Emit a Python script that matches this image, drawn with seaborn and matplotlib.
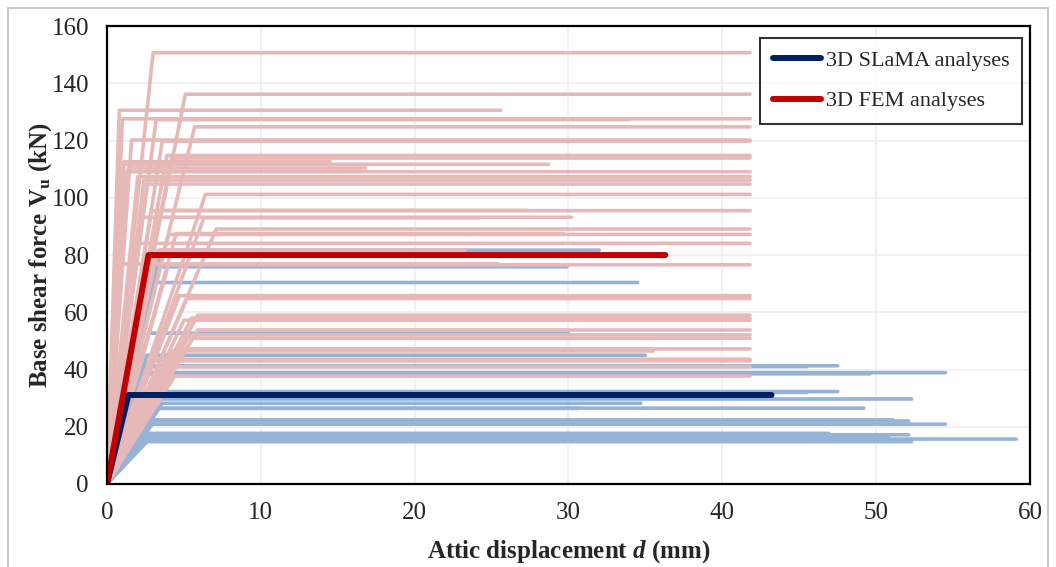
import matplotlib
matplotlib.use("Agg")
import matplotlib.pyplot as plt
import matplotlib.patches as mpatches
from matplotlib.lines import Line2D
import seaborn as sns
import pandas as pd

# bilinear curves: yield displacement, yield force, ultimate displacement
fem_dy = [3.0, 5.1, 0.8, 1.0, 3.2, 5.7, 1.6, 3.6, 3.9, 4.2, 1.1, 1.1, 1.4, 1.3, 2.0, 2.4, 2.6,
          6.4, 2.9, 3.4, 2.2, 6.3, 7.1, 4.0, 4.5, 1.8, 3.3, 4.0, 0.9, 4.7, 5.2, 5.9, 5.5, 5.0,
          5.9, 5.4, 5.0, 4.6, 4.3, 2.8, 3.0, 3.5, 4.4]
fem_vy = [150.7, 136.2, 130.6, 127.6, 127.3, 124.8, 120.2, 119.8, 114.8, 113.9, 112.6, 111.7,
          110.4, 109.1, 107.4, 106.2, 104.8, 101.2, 95.5, 95.6, 93.2, 93.0, 89.1, 87.2, 87.5,
          84.1, 81.7, 76.6, 76.9, 65.8, 64.8, 59.0, 58.0, 57.2, 53.8, 52.1, 50.9, 47.2, 46.5,
          43.6, 43.0, 41.0, 37.7]
fem_du = [41.8, 41.8, 25.6, 41.8, 34.0, 41.8, 41.8, 41.8, 41.8, 41.8, 14.5, 28.7, 16.8, 41.8,
          41.8, 41.8, 41.8, 41.8, 41.8, 27.3, 30.2, 24.2, 41.8, 41.8, 29.7, 41.8, 23.3, 41.8,
          25.4, 41.8, 41.8, 41.8, 41.8, 41.8, 41.8, 41.8, 41.8, 41.8, 35.5, 41.8, 41.8, 41.8,
          41.8]

slama_dy = [3.5, 3.1, 2.8, 2.7, 2.6, 2.1, 2.3, 2.0, 2.2, 2.5, 2.6, 3.5, 3.6, 3.4, 3.3, 3.0,
            3.1, 2.9, 2.6, 2.7, 2.5, 2.6, 2.4]
slama_vy = [81.7, 75.9, 70.4, 52.7, 45.0, 41.3, 41.0, 38.9, 38.5, 32.3, 32.0, 29.7, 28.2, 26.5,
            26.4, 22.4, 22.0, 20.9, 17.7, 17.2, 15.7, 14.8, 16.3]
slama_du = [32.0, 29.9, 34.5, 30.0, 35.0, 47.5, 45.5, 54.5, 49.6, 47.5, 45.5, 52.3, 34.7, 49.2,
            30.6, 51.1, 52.1, 54.5, 46.9, 52.1, 59.1, 52.3, 50.8]

# mean curves
slama_mean = [1.4, 31.1, 43.2]
fem_mean = [2.7, 80.0, 36.3]


def to_long(dy, vy, du):
    rows = []
    for i, (a, b, c) in enumerate(zip(dy, vy, du)):
        for x, y in [(0, 0), (a, b), (c, b)]:
            rows.append({"curve": i, "d": x, "V": y})
    return pd.DataFrame(rows)


df_fem = to_long(fem_dy, fem_vy, fem_du)
df_slama = to_long(slama_dy, slama_vy, slama_du)
df_sm = to_long([slama_mean[0]], [slama_mean[1]], [slama_mean[2]])
df_fm = to_long([fem_mean[0]], [fem_mean[1]], [fem_mean[2]])

sns.set_style("white")
plt.rcParams["font.family"] = ["Liberation Serif", "DejaVu Serif"]
plt.rcParams["mathtext.fontset"] = "custom"
plt.rcParams["mathtext.rm"] = "Liberation Serif"
plt.rcParams["mathtext.bf"] = "Liberation Serif:bold"
plt.rcParams["mathtext.it"] = "Liberation Serif:italic"
plt.rcParams["mathtext.bfit"] = "Liberation Serif:italic:bold"

fig = plt.figure(figsize=(10.56, 5.67), dpi=100)
ax = fig.add_axes([0.1013, 0.1464, 0.8741, 0.8076])

kw = dict(x="d", y="V", units="curve", estimator=None, sort=False, legend=False, ax=ax,
          solid_capstyle="round", solid_joinstyle="round")
sns.lineplot(data=df_slama, color="#95B3D7", linewidth=2.6, **kw)
sns.lineplot(data=df_fem, color="#E6B9B8", linewidth=2.6, **kw)
sns.lineplot(data=df_sm, color="#002060", linewidth=4.3, **kw)
sns.lineplot(data=df_fm, color="#C00000", linewidth=4.3, **kw)

ax.set_xlim(0, 60)
ax.set_ylim(0, 160)
ax.set_xticks(range(0, 61, 10))
ax.set_yticks(range(0, 161, 20))
ax.grid(True, color="#EFEFEF", linewidth=1.2)
ax.set_axisbelow(True)
for s in ax.spines.values():
    s.set_color("black")
    s.set_linewidth(1.6)
ax.tick_params(direction="in", length=6, width=1.5, labelsize=18, pad=13)

ax.set_xlabel(r"Attic displacement $\mathbfit{d}$ (mm)", fontsize=18, fontweight="bold")
ax.set_ylabel(r"Base shear force V$_\mathbf{u}$ (kN)", fontsize=18, fontweight="bold")
ax.xaxis.set_label_coords(0.5, -0.118)
ax.yaxis.set_label_coords(-0.057, 0.5)

handles = [Line2D([], [], color="#002060", linewidth=4.3, solid_capstyle="round"),
           Line2D([], [], color="#C00000", linewidth=4.3, solid_capstyle="round")]
leg = ax.legend(handles, ["3D SLaMA analyses", "3D FEM analyses"], loc="upper right",
                bbox_to_anchor=(0.991, 0.974), borderaxespad=0, fontsize=16, frameon=True,
                fancybox=False, handlelength=2.2, handletextpad=0.2, labelspacing=0.9,
                borderpad=0.55)
leg.get_frame().set_edgecolor("black")
leg.get_frame().set_linewidth(1.5)

fig.patches.append(mpatches.Rectangle((8 / 1056, -0.02), 1040 / 1056, 1.02 - 8 / 567,
                                      transform=fig.transFigure, fill=False,
                                      edgecolor="#BFBFBF", linewidth=1.2))

fig.savefig("out.png", dpi=100)
